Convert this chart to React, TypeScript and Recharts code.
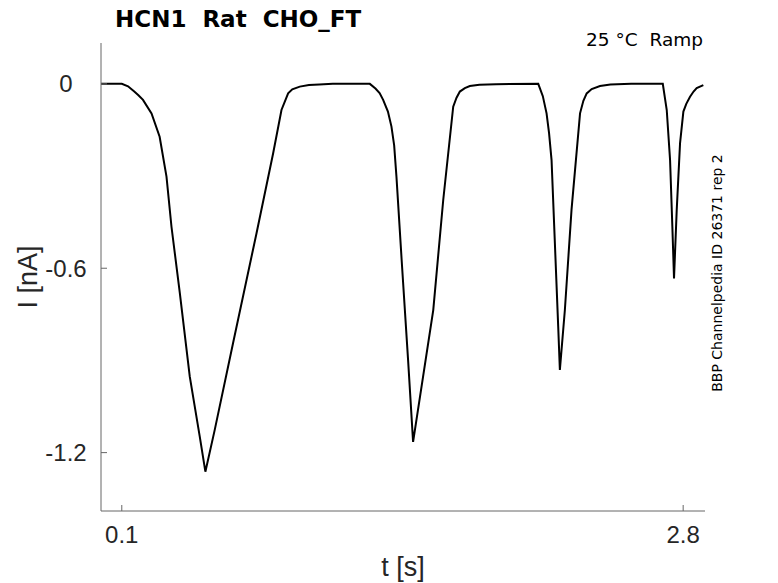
import React from "react";
import { LineChart, Line, XAxis, YAxis } from "recharts";

// ────────────────────────────────────────────────────────────
// Trace (t in s, I in nA)
// ────────────────────────────────────────────────────────────

const TIME_S = [
  0, 0.1, 0.13, 0.16, 0.18, 0.202, 0.243, 0.282, 0.315, 0.339, 0.379, 0.427,
  0.475, 0.502, 0.547, 0.635, 0.748, 0.828, 0.868, 0.9, 0.92, 0.956, 1.0, 1.05,
  1.115, 1.293, 1.32, 1.34, 1.357, 1.38, 1.397, 1.41, 1.421, 1.446, 1.477,
  1.501, 1.598, 1.646, 1.694, 1.71, 1.726, 1.75, 1.774, 1.82, 1.9, 2.103,
  2.125, 2.143, 2.155, 2.167, 2.183, 2.199, 2.207, 2.231, 2.263, 2.304, 2.32,
  2.336, 2.36, 2.4, 2.45, 2.55, 2.702, 2.721, 2.737, 2.748, 2.756, 2.769,
  2.785, 2.801, 2.815, 2.833, 2.85, 2.865, 2.897,
];

const CURRENT_NA = [
  0, 0, -0.008, -0.025, -0.037, -0.052, -0.096, -0.172, -0.302, -0.465, -0.68,
  -0.953, -1.148, -1.262, -1.126, -0.844, -0.486, -0.226, -0.085, -0.031,
  -0.018, -0.009, -0.004, -0.002, 0, 0, -0.015, -0.03, -0.052, -0.09, -0.139,
  -0.2, -0.302, -0.573, -0.899, -1.165, -0.736, -0.378, -0.074, -0.045,
  -0.025, -0.014, -0.007, -0.003, -0.001, 0, -0.04, -0.096, -0.16, -0.248,
  -0.519, -0.79, -0.931, -0.736, -0.41, -0.096, -0.055, -0.031, -0.017,
  -0.007, -0.002, 0, 0, -0.085, -0.248, -0.465, -0.633, -0.41, -0.193, -0.09,
  -0.065, -0.042, -0.025, -0.014, -0.004,
];

const X_TICKS = [0.1, 2.8];
const Y_TICKS = [0, -0.6, -1.2];

const TITLE = "HCN1  Rat  CHO_FT";
const CONDITION = "25 °C  Ramp";
const SOURCE = "BBP Channelpedia ID 26371 rep 2";

const data = TIME_S.map((t, i) => ({ t, i: CURRENT_NA[i] }));

const AXIS_COLOR = "#666";
const TEXT_COLOR = "#262626";
const TICK_FONT = "'Liberation Sans', Arial, sans-serif";

function XTick({ x, y, payload }: any) {
  return (
    <text x={x} y={y + 38} textAnchor="middle" fontSize={24} fill={TEXT_COLOR} fontFamily={TICK_FONT}>
      {payload.value}
    </text>
  );
}

function YTick({ x, y, payload }: any) {
  return (
    <text x={x} y={y} dy="0.35em" textAnchor="middle" fontSize={24} fill={TEXT_COLOR} fontFamily={TICK_FONT}>
      {payload.value}
    </text>
  );
}

export default function App() {
  return (
    <div style={{ position: "absolute", left: 0, top: 0, width: 778, height: 583, background: "#fff" }}>
      <LineChart
        width={778}
        height={583}
        data={data}
        margin={{ top: 43, right: 73, bottom: 32, left: 41 }}
      >
        <XAxis
          dataKey="t"
          type="number"
          domain={[0, 2.905]}
          ticks={X_TICKS}
          height={40}
          stroke={AXIS_COLOR}
          tickSize={-6}
          tickMargin={0}
          tick={<XTick />}
        />
        <YAxis
          type="number"
          domain={[-1.39, 0.133]}
          ticks={Y_TICKS}
          width={60}
          stroke={AXIS_COLOR}
          tickSize={-6}
          tickMargin={41}
          tick={<YTick />}
        />
        <Line
          type="linear"
          dataKey="i"
          stroke="#000"
          strokeWidth={2}
          dot={false}
          isAnimationActive={false}
        />
      </LineChart>

      {/* titles and labels */}
      <svg
        width={778}
        height={583}
        style={{ position: "absolute", left: 0, top: 0, pointerEvents: "none" }}
      >
        <text x={115} y={27} fontSize={23} fontWeight="bold" fontFamily="'DejaVu Sans', sans-serif" fill="#000" style={{ whiteSpace: "pre" }}>
          {TITLE}
        </text>
        <text x={703} y={46} textAnchor="end" fontSize={18.5} fontFamily="'DejaVu Sans', sans-serif" fill="#000" style={{ whiteSpace: "pre" }}>
          {CONDITION}
        </text>
        <text x={403} y={576} textAnchor="middle" fontSize={27} fontFamily={TICK_FONT} fill={TEXT_COLOR}>
          t [s]
        </text>
        <text
          transform="translate(37 277) rotate(-90)"
          textAnchor="middle"
          fontSize={27}
          fontFamily={TICK_FONT}
          fill={TEXT_COLOR}
        >
          I [nA]
        </text>
        <text
          transform="translate(722 273) rotate(-90)"
          textAnchor="middle"
          fontSize={14}
          fontFamily="'DejaVu Sans', sans-serif"
          fill="#000"
        >
          {SOURCE}
        </text>
      </svg>
    </div>
  );
}
